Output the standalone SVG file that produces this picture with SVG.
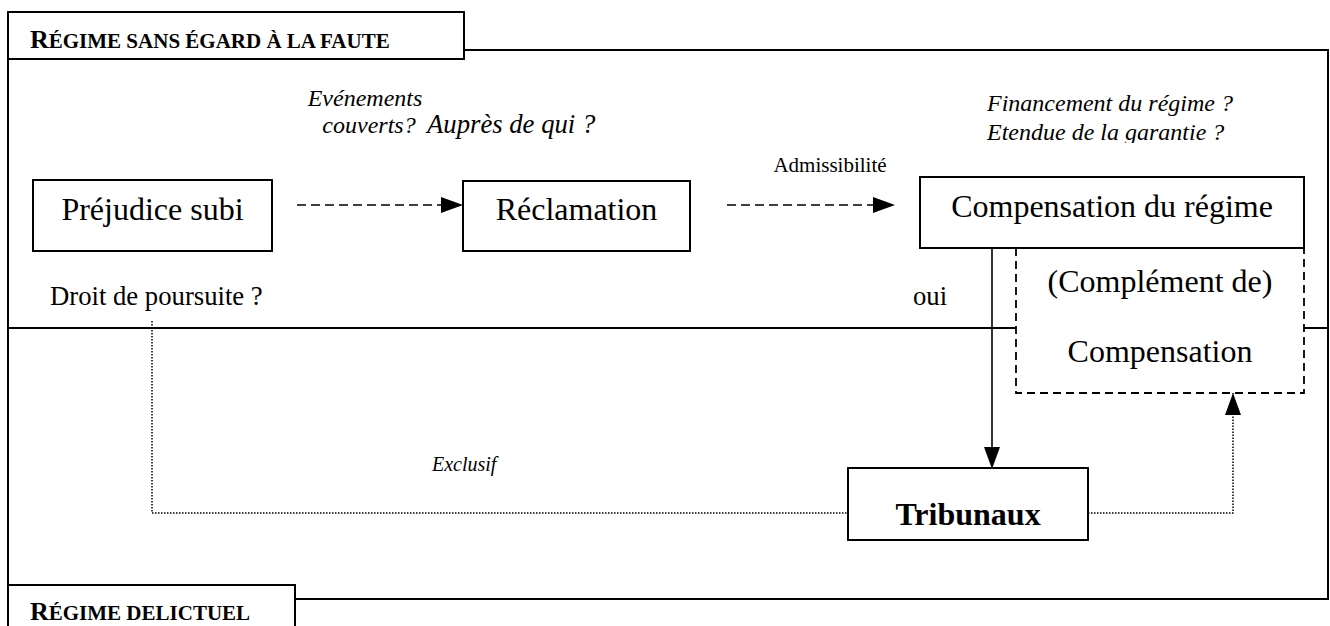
<svg xmlns="http://www.w3.org/2000/svg" width="1330" height="626" viewBox="0 0 1330 626">
<style>
text{font-family:"Liberation Serif","Times New Roman",serif;fill:#000}
.frame{fill:none;stroke:#000;stroke-width:2}
.box{fill:#fff;stroke:#000;stroke-width:2}
.dbox{fill:#fff;stroke:#000;stroke-width:1.8;stroke-dasharray:8,5}
.main{font-size:32px;text-anchor:middle}
.it{font-style:italic;font-size:24px}
.lbl{font-size:26.7px}
.big{font-size:26px;font-weight:bold}
.sm{font-size:21px;font-weight:bold}
.dash{fill:none;stroke:#000;stroke-width:1.6;stroke-dasharray:9,5}
.dot{fill:none;stroke:#000;stroke-width:1.5;stroke-dasharray:1.5,1.5}
.solid{fill:none;stroke:#000;stroke-width:1.6}
</style>
<defs>
<marker id="ah" viewBox="0 0 10 10" refX="10" refY="5" markerWidth="22" markerHeight="16" markerUnits="userSpaceOnUse" orient="auto" preserveAspectRatio="none">
<path d="M0,0 L10,5 L0,10 z" fill="#000"/>
</marker>
<clipPath id="clipFin"><rect x="900" y="80" width="400" height="63"/></clipPath>
</defs>

<g id="frames">
<path class="frame" d="M464,50 H1328 V599 H295"/>
<path class="frame" d="M8,328 H1016 M1304,328 H1328"/>
<line class="frame" x1="8" y1="12" x2="8" y2="626"/>
</g>

<g id="tab-sans-egard">
<rect class="box" x="8" y="12" width="456" height="47"/>
<text x="30" y="48"><tspan class="big">R</tspan><tspan class="sm">ÉGIME SANS ÉGARD À LA FAUTE</tspan></text>
</g>

<g id="tab-delictuel">
<path class="box" d="M8,626 V585 H295 V626"/>
<text x="30" y="620"><tspan class="big">R</tspan><tspan class="sm">ÉGIME DELICTUEL</tspan></text>
</g>

<g id="connectors">
<line class="dash" x1="297" y1="205" x2="463" y2="205" marker-end="url(#ah)"/>
<line class="dash" x1="727" y1="205" x2="895" y2="205" marker-end="url(#ah)"/>
<line class="solid" x1="992" y1="248" x2="992" y2="469" marker-end="url(#ah)"/>
<polyline class="dot" points="152,321 152,513 848,513"/>
<polyline class="dot" points="1088,513 1233,513 1233,393" marker-end="url(#ah)"/>
</g>

<g id="node-complement">
<path class="dbox" d="M1016,248 V393 H1304 V248"/>
<text class="main" x="1160" y="292">(Complément de)</text>
<text class="main" x="1160" y="362">Compensation</text>
</g>

<g id="node-prejudice">
<rect class="box" x="33" y="180" width="239" height="71"/>
<text class="main" x="152.5" y="220">Préjudice subi</text>
</g>

<g id="node-reclamation">
<rect class="box" x="463" y="181" width="227" height="70"/>
<text class="main" x="576.5" y="220">Réclamation</text>
</g>

<g id="node-compensation">
<rect class="box" x="920" y="177" width="384" height="71"/>
<text class="main" x="1112" y="217">Compensation du régime</text>
</g>

<g id="node-tribunaux">
<rect class="box" x="848" y="468" width="240" height="72"/>
<text class="main" x="968" y="525" style="font-weight:bold">Tribunaux</text>
</g>

<g id="labels">
<text class="it" x="365" y="106" text-anchor="middle">Evénements</text>
<text class="it" x="369" y="133" text-anchor="middle">couverts?</text>
<text class="it" x="427" y="133" style="font-size:26.7px">Auprès de qui ?</text>
<text x="830" y="172" style="font-size:21px" text-anchor="middle">Admissibilité</text>
<g clip-path="url(#clipFin)">
<text class="it" x="987" y="111">Financement du régime ?</text>
<text class="it" x="987" y="140">Etendue de la garantie ?</text>
</g>
<text class="lbl" x="50" y="305">Droit de poursuite ?</text>
<text class="lbl" x="913" y="305">oui</text>
<text class="it" x="432" y="471" style="font-size:20px">Exclusif</text>
</g>
</svg>
